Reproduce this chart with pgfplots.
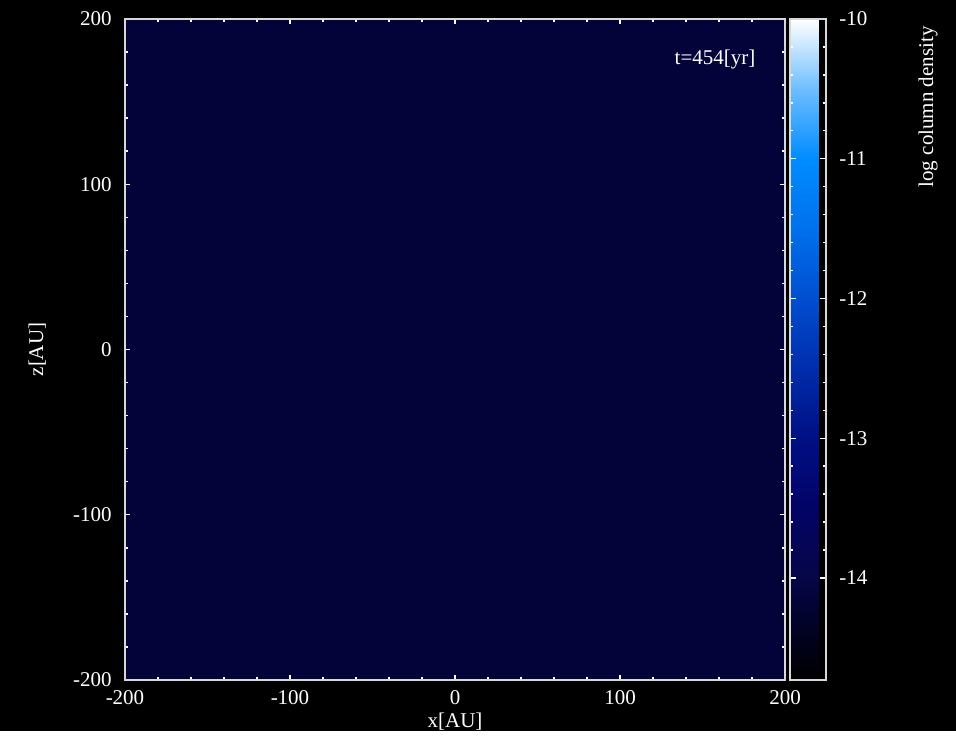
\documentclass[border=0pt]{standalone}
\usepackage{pgfplots}
\pgfplotsset{compat=1.18}
\usepgfplotslibrary{patchplots}
\usepackage{fontspec}
\setmainfont{Liberation Serif}

\definecolor{frame}{RGB}{215,215,215}

\begin{document}
\fontsize{10.5}{12}\selectfont
\begin{tikzpicture}
% black page behind everything (also fixes the picture size)
\fill[black] (-62.5pt,-25.5pt) rectangle (415.5pt,340pt);

\begin{axis}[
    name=main,
    at={(0,0)}, anchor=south west,
    scale only axis,
    width=330pt, height=330.5pt,
    xmin=-200, xmax=200, ymin=-200, ymax=200,
    axis on top,
    axis line style={frame, line width=1pt},
    tick style={white, line width=0.7pt},
    tick align=inside,
    xtick={-200,-100,0,100,200},
    ytick={-200,-100,0,100,200},
    xticklabels={-200,-100,0,100,200},
    yticklabels={-200,-100,0,100,200},
    minor tick num=4,
    major tick length=2.6pt,
    minor tick length=1.5pt,
    ticklabel style={text=white},
    xticklabel style={yshift=-1.5pt},
    yticklabel style={xshift=-3pt},
    xlabel={x[AU]},
    ylabel={z[AU]},
    label style={text=white},
    xlabel style={at={(axis description cs:0.5,0)}, anchor=north, yshift=-13pt},
    ylabel style={at={(axis description cs:-0.133,0.5)}, anchor=center},
    colormap={logcol}{
        rgb255(0)=(0,0,0);
        rgb255(58)=(3,3,58);
        rgb255(73)=(6,6,72);
        rgb255(123)=(3,3,102);
        rgb255(173)=(0,15,132);
        rgb255(223)=(0,45,172);
        rgb255(273)=(0,78,208);
        rgb255(323)=(0,112,236);
        rgb255(373)=(0,140,255);
        rgb255(423)=(110,190,255);
        rgb255(473)=(255,255,255)
    },
    point meta min=-14.73, point meta max=-10,
    colorbar,
    colorbar style={
        at={(parent axis.north east)}, anchor=north west,
        xshift=-6pt,
        width=18pt,
        axis on top,
        axis lines=box,
        axis line style={frame, line width=1pt},
        tick style={white, line width=0.7pt},
        tick align=inside,
        ytick={-14,-13,-12,-11,-10},
        yticklabels={-14,-13,-12,-11,-10},
        minor y tick num=4,
        major tick length=3pt,
        minor tick length=1.5pt,
        ytick pos=both,
        yticklabel pos=right,
        yticklabel style={text=white, xshift=3pt},
    },
]
% column density map (uniform at this time step)
\addplot[patch, patch type=rectangle, shader=flat, point meta=explicit]
    table[meta=c] {
x y c
-200 -200 -14.15
200 -200 -14.15
200 200 -14.15
-200 200 -14.15
};
\node[text=white] at (axis cs:157.6,175.2) {t=454[yr]};
\end{axis}

\node[text=white, rotate=90, anchor=east] at ([xshift=71.5pt, yshift=0pt]main.north east) {log column density};
\end{tikzpicture}
\end{document}
